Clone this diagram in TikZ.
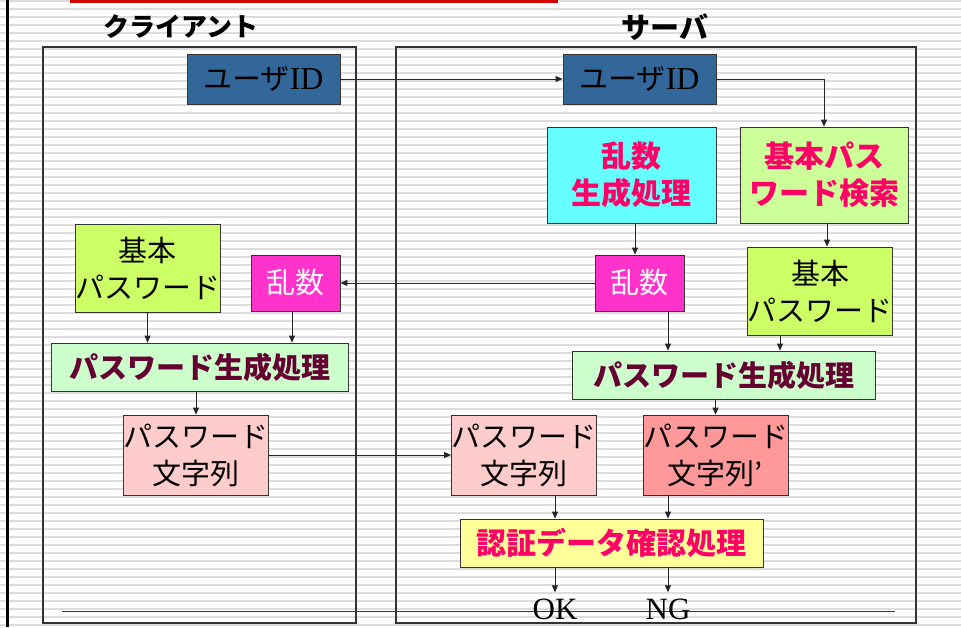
\documentclass[tikz,border=0pt]{standalone}
\usepackage{fontspec}
\setmainfont{Liberation Serif}
\newfontfamily\jp{Noto Sans CJK JP}
\usetikzlibrary{arrows.meta}
\definecolor{idblue}{HTML}{336699}
\definecolor{cyanbox}{HTML}{66FFFF}
\definecolor{srchgreen}{HTML}{CCFF99}
\definecolor{randpink}{HTML}{FF33CC}
\definecolor{basegreen}{HTML}{CCFF66}
\definecolor{gengreen}{HTML}{CCFFCC}
\definecolor{strpink}{HTML}{FFCCCC}
\definecolor{strred}{HTML}{FF9999}
\definecolor{authyellow}{HTML}{FFFF99}
\definecolor{hotpink}{HTML}{FF0066}
\definecolor{maroon}{HTML}{660033}
\definecolor{topred}{HTML}{D40000}
\definecolor{stripegray}{HTML}{DDDDDD}
\begin{document}
\begin{tikzpicture}[x=1pt,y=-1pt,
  stripe/.style={stripegray,line width=2.4pt},
  frame/.style={draw=black!80,line width=1.2pt,inner sep=0pt},
  bx/.style={draw=black!80,line width=0.8pt,inner sep=0pt,align=center},
  normtxt/.style={font=\jp\fontsize{29}{37}\selectfont},
  boldtxt/.style={font=\jp\bfseries\fontsize{30}{37}\selectfont},
  arr/.style={draw=black!85,line width=0.8pt,-{Triangle[length=7pt,width=6pt]}},
  title/.style={font=\jp\bfseries,inner sep=0pt}
]
\useasboundingbox (0,0) rectangle (961,627);
% background stripes
\foreach \i in {0,...,78} \draw[stripe] (0,8*\i+0.8) -- (961,8*\i+0.8);
\fill[black] (6,0) rectangle (8.7,627);
\fill[topred] (70,0) rectangle (558,3.2);

% titles
\node[title,font=\jp\bfseries\fontsize{26}{30}\selectfont] (tclient) at (181,27) {クライアント};
\node[title,font=\jp\bfseries\fontsize{29}{30}\selectfont] (tserver) at (665,27) {サーバ};

% frames
\node[frame,minimum width=313pt,minimum height=576pt] (client) at (199.5,335) {};
\node[frame,minimum width=520pt,minimum height=576pt] (server) at (656,335) {};

% client nodes
\node[bx,fill=idblue,minimum width=153pt,minimum height=50pt,font=\jp\fontsize{29}{34}\selectfont] (cID) at (263.5,79) {ユーザ{\rmfamily\fontsize{32}{34}\selectfont ID}};
\node[bx,normtxt,fill=basegreen,minimum width=145pt,minimum height=88pt] (cBase) at (147.5,268) {基本\\パスワード};
\node[bx,normtxt,fill=randpink,text=white,minimum width=89pt,minimum height=56pt] (cRand) at (295.5,283) {乱数};
\node[bx,fill=gengreen,text=maroon,minimum width=297pt,minimum height=48pt,font=\jp\bfseries\fontsize{29}{34}\selectfont] (cGen) at (199.5,367) {パスワード生成処理};
\node[bx,normtxt,fill=strpink,minimum width=144pt,minimum height=80pt] (cStr) at (196,455) {パスワード\\文字列};

% server nodes
\node[bx,fill=idblue,minimum width=153pt,minimum height=50pt,font=\jp\fontsize{29}{34}\selectfont] (sID) at (639.5,79) {ユーザ{\rmfamily\fontsize{32}{34}\selectfont ID}};
\node[bx,boldtxt,fill=cyanbox,text=hotpink,minimum width=169pt,minimum height=96pt] (rng) at (631.5,175) {乱数\\生成処理};
\node[bx,boldtxt,fill=srchgreen,text=hotpink,minimum width=168pt,minimum height=96pt] (srch) at (824,175) {基本パス\\ワード検索};
\node[bx,normtxt,fill=randpink,text=white,minimum width=89pt,minimum height=56pt] (sRand) at (639.5,283) {乱数};
\node[bx,normtxt,fill=basegreen,minimum width=144pt,minimum height=88pt] (sBase) at (820,291) {基本\\パスワード};
\node[bx,fill=gengreen,text=maroon,minimum width=303pt,minimum height=48pt,font=\jp\bfseries\fontsize{29}{34}\selectfont] (sGen) at (723.5,375) {パスワード生成処理};
\node[bx,normtxt,fill=strpink,minimum width=144pt,minimum height=80pt] (sStr) at (524,455) {パスワード\\文字列};
\node[bx,normtxt,fill=strred,minimum width=143pt,minimum height=80pt] (sStr2) at (715.5,455) {パスワード\\文字列’};
\node[bx,boldtxt,fill=authyellow,text=hotpink,minimum width=303pt,minimum height=48pt] (auth) at (611.5,543) {認証データ確認処理};

% footer line
\draw[topred!90!black,line width=0.9pt] (62,611) -- (895,611);

% results
\node[anchor=base,inner xsep=0pt,inner ysep=6pt,font=\rmfamily\fontsize{31}{34}\selectfont] (ok) at (555,619) {OK};
\node[anchor=base,inner xsep=0pt,inner ysep=6pt,font=\rmfamily\fontsize{31}{34}\selectfont] (ng) at (668,619) {NG};

% connectors
\draw[arr] (cID.east) -- (sID.west);
\draw[arr] (sID.east) -| (srch.north);
\draw[arr] ([xshift=-4.5pt]sRand.north |- rng.south) -- ([xshift=-4.5pt]sRand.north);
\draw[arr] ([xshift=7pt]sBase.north |- srch.south) -- ([xshift=7pt]sBase.north);
\draw[arr] (sRand.west) -- (cRand.east);
\draw[arr] ([xshift=28.5pt]sRand.south) -- ([xshift=28.5pt]sRand.south |- sGen.north);
\draw[arr] ([xshift=-40pt]sBase.south) -- ([xshift=-40pt]sBase.south |- sGen.north);
\draw[arr] (sStr2.north |- sGen.south) -- (sStr2.north);
\draw[arr] (cBase.south) -- (cBase.south |- cGen.north);
\draw[arr] ([xshift=-3.5pt]cRand.south) -- ([xshift=-3.5pt]cRand.south |- cGen.north);
\draw[arr] (cStr.north |- cGen.south) -- (cStr.north);
\draw[arr] (cStr.east) -- (sStr.west);
\draw[arr] ([xshift=31pt]sStr.south) -- ([xshift=31pt]sStr.south |- auth.north);
\draw[arr] ([xshift=-47.5pt]sStr2.south) -- ([xshift=-47.5pt]sStr2.south |- auth.north);
\draw[arr] (ok.north |- auth.south) -- (ok.north);
\draw[arr] (ng.north |- auth.south) -- (ng.north);
\end{tikzpicture}
\end{document}
